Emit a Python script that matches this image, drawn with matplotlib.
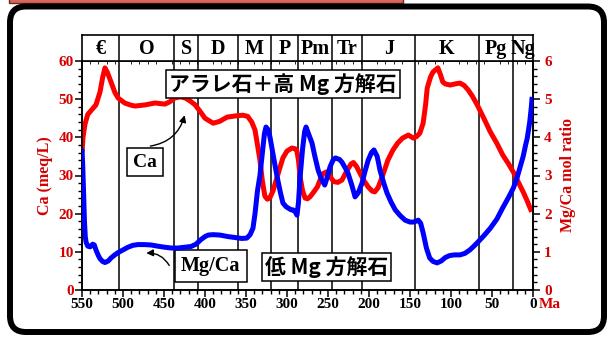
import numpy as np
import matplotlib.pyplot as plt
from matplotlib.patches import FancyBboxPatch, Rectangle
from matplotlib.transforms import IdentityTransform
from matplotlib.ticker import MultipleLocator

plt.rcParams['font.family'] = ['Liberation Serif', 'DejaVu Serif']
plt.rcParams['font.weight'] = 'bold'
plt.rcParams['axes.labelweight'] = 'bold'

# geologic periods (old timescale), Ma
period_bounds = [550, 505, 438, 408, 360, 320, 286, 245, 208, 144, 66, 24, 0]
period_names = ['€', 'O', 'S', 'D', 'M', 'P', 'Pm', 'Tr', 'J', 'K', 'Pg', 'Ng']

# seawater Ca (meq/L)
ca_age = [550, 548.8, 546.3, 543, 539, 533, 528, 525, 522, 519, 514.6, 510, 506,
          498, 490, 485, 473, 461, 449, 443, 437, 430, 424, 418, 412, 406, 400,
          390, 382, 373, 363, 354, 348, 343, 339, 336, 333, 330, 327, 324, 321,
          317, 312, 308, 305, 300, 294, 290, 288, 286, 284, 281, 278, 275, 272,
          268, 263, 259, 256, 251, 247, 243, 238, 233, 227, 222, 219, 215, 211,
          206, 201, 196, 193, 189, 184, 177, 171, 165, 159, 152, 146, 142, 138,
          134, 131, 129, 125, 122, 116, 113, 110, 107, 101, 95, 89, 84, 79, 74,
          68, 60, 52, 44, 37, 30, 24, 18, 12, 7, 3, 1.5]
ca_val = [36.0, 40.0, 43.5, 46.0, 47.0, 48.5, 51.9, 55.5, 58.2, 57.0, 54.5, 51.8, 50.3,
          49.0, 48.4, 48.2, 48.5, 49.0, 48.7, 49.3, 50.3, 50.6, 50.3, 49.5, 48.5, 46.8, 45.0,
          43.7, 44.2, 45.3, 45.6, 45.8, 45.5, 44.0, 41.9, 38.0, 34.0, 28.5, 24.6, 23.8, 24.1,
          26.0, 29.6, 32.5, 34.6, 36.4, 37.2, 37.0, 36.5, 34.0, 29.6, 26.0, 24.1, 23.9, 24.4,
          25.5, 27.0, 29.2, 30.5, 31.0, 29.6, 28.4, 28.2, 28.8, 31.2, 33.0, 33.4, 32.3, 30.6,
          28.6, 27.0, 25.9, 25.7, 26.8, 29.6, 34.0, 36.6, 38.5, 39.8, 40.6, 39.8, 40.2, 41.1,
          43.7, 48.5, 52.9, 55.8, 57.1, 58.2, 56.5, 54.5, 54.0, 53.7, 54.0, 54.2, 53.6, 52.4, 50.8,
          48.5, 45.0, 41.4, 38.4, 35.4, 33.1, 30.9, 28.3, 25.7, 23.3, 21.2, 20.5]

# seawater Mg/Ca mol ratio
mg_age = [550, 549, 548, 547, 546, 545, 543, 540, 537, 535, 533, 530, 528, 525, 522,
          518, 514.6, 510, 506, 500, 494, 488, 482, 474, 466, 458, 449, 441, 433, 425,
          417, 411, 405, 400, 396, 390, 382, 372, 362, 355, 349, 345, 341.5, 339, 336,
          333, 330, 327.5, 325.6, 323, 320.7, 317, 312, 308, 305, 301, 298.8, 295, 292.7,
          290, 287.8, 286, 284, 281, 278.5, 276.8, 273, 269.5, 266, 262, 258, 254, 251,
          247.6, 244, 241, 236, 233, 229, 225.6, 221, 217, 213, 208.5, 205, 201, 197, 194,
          190, 186.6, 182, 178, 173, 168, 162, 156, 150, 146, 143, 140, 137, 134, 130,
          126, 122, 117, 112, 107, 102, 96, 89, 83, 77, 72, 67, 60, 52, 44, 37, 30, 24,
          20, 16, 12, 9, 7, 4, 2, 1]
mg_val = [3.7, 3.2, 2.5, 1.8, 1.4, 1.25, 1.15, 1.13, 1.2, 1.18, 1.05, 0.9, 0.82, 0.75, 0.72,
          0.76, 0.84, 0.92, 0.98, 1.05, 1.12, 1.17, 1.19, 1.19, 1.18, 1.15, 1.12, 1.10, 1.10, 1.12,
          1.14, 1.2, 1.32, 1.4, 1.44, 1.45, 1.44, 1.40, 1.37, 1.35, 1.36, 1.45, 1.62, 2.0, 2.6,
          3.0, 3.6, 4.1, 4.27, 4.2, 4.0, 3.55, 2.96, 2.55, 2.28, 2.18, 2.15, 2.1, 2.1,
          2.05, 1.96, 2.3, 2.96, 3.7, 4.15, 4.27, 4.05, 3.85, 3.5, 3.14, 2.9, 2.75, 2.95,
          3.22, 3.4, 3.46, 3.42, 3.35, 3.2, 3.06, 2.75, 2.44, 2.55, 2.8, 3.1, 3.4, 3.6, 3.67,
          3.5, 3.14, 2.8, 2.54, 2.3, 2.1, 1.95, 1.83, 1.78, 1.78, 1.8, 1.83, 1.75, 1.5, 1.1,
          0.84, 0.75, 0.71, 0.76, 0.85, 0.9, 0.92, 0.92, 0.96, 1.05, 1.15, 1.26, 1.42, 1.62, 1.86, 2.15, 2.42, 2.67,
          2.9, 3.2, 3.5, 3.8, 3.98, 4.4, 4.8, 5.06]

RED = '#ff0000'
LABEL_RED = '#d40000'
BLUE = '#0000ff'

fig = plt.figure(figsize=(6.12, 3.38), dpi=100)
W, H = 612, 338

# outer rounded frame and the clipped title bar above it
fig.add_artist(Rectangle((9, H - 3), 394, 10, transform=IdentityTransform(),
                         facecolor='#d9675b', edgecolor='#6b2a22', lw=1.0))
fig.add_artist(FancyBboxPatch((10, 6), 594, 325.5,
                              boxstyle='round,pad=0,rounding_size=16',
                              transform=IdentityTransform(),
                              facecolor='none', edgecolor='black', lw=4.3))

ax = fig.add_axes([82 / W, 48 / H, 451 / W, 229 / H])
hdr = fig.add_axes([82 / W, 277 / H, 451 / W, 26.5 / H], sharex=ax)

ax.set_xlim(550, 0)
ax.set_ylim(0, 60)

for b in period_bounds[1:-1]:
    ax.axvline(b, color='black', lw=1.1, zorder=1)
    hdr.axvline(b, color='black', lw=1.1)

ax.plot(ca_age, ca_val, color=RED, lw=3.6, solid_capstyle='butt', zorder=3)

ax2 = ax.twinx()
ax2.set_ylim(0, 6)
ax2.plot(mg_age, mg_val, color=BLUE, lw=3.6, solid_capstyle='butt', zorder=4)

# axis styling
for a in (ax, ax2):
    for s in a.spines.values():
        s.set_linewidth(1.2)
ax.xaxis.set_major_locator(MultipleLocator(50))
ax.xaxis.set_minor_locator(MultipleLocator(10))
ax.yaxis.set_major_locator(MultipleLocator(10))
ax.yaxis.set_minor_locator(MultipleLocator(2))
ax2.yaxis.set_major_locator(MultipleLocator(1))
ax2.yaxis.set_minor_locator(MultipleLocator(0.2))
ax.tick_params(axis='x', which='major', length=5, width=1.1, labelsize=11, pad=1)
ax.tick_params(axis='x', which='minor', length=3, width=1.0)
ax.tick_params(axis='y', which='major', length=5, width=1.1, labelsize=11,
               labelcolor=LABEL_RED, pad=1)
ax.tick_params(axis='y', which='minor', length=3, width=1.0)
ax2.tick_params(axis='y', which='major', length=5, width=1.1, labelsize=11,
                labelcolor=LABEL_RED, pad=3)
ax2.tick_params(axis='y', which='minor', length=3, width=1.0)

ax.set_ylabel('Ca (meq/L)', color=LABEL_RED, fontsize=11.5, labelpad=4)
ax2.set_ylabel('Mg/Ca mol ratio', color=LABEL_RED, fontsize=11.5, labelpad=6)
ax.text(1.012, -0.065, 'Ma', transform=ax.transAxes, color=LABEL_RED,
        fontsize=11, ha='left', va='center')

# period header row
hdr.set_ylim(0, 1)
hdr.spines['bottom'].set_visible(False)
for s in hdr.spines.values():
    s.set_linewidth(1.2)
hdr.tick_params(left=False, bottom=False, labelbottom=False, labelleft=False)
for i, name in enumerate(period_names):
    mid = (period_bounds[i] + period_bounds[i + 1]) / 2
    hdr.text(mid, 0.45, name, ha='center', va='center', fontsize=14.5)

# annotations
box = dict(boxstyle='square,pad=0.15', facecolor='white', edgecolor='black', lw=1.1)
jp = ['Noto Sans CJK JP', 'DejaVu Sans']
ax.text(305, 54.0, 'アラレ石＋高 Mg 方解石', family=jp, fontsize=15, weight='bold',
        ha='center', va='center', bbox=box, zorder=6)
ax.text(252, 6.0, '低 Mg 方解石', family=jp, fontsize=15, weight='bold',
        ha='center', va='center', bbox=box, zorder=6)
ax.text(473, 33.5, 'Ca', fontsize=14, ha='center', va='center',
        bbox=dict(boxstyle='square,pad=0.3', facecolor='white', edgecolor='black', lw=1.1),
        zorder=6)
ax.text(393, 6.3, 'Mg/Ca', fontsize=14.5, ha='center', va='center',
        bbox=dict(boxstyle='square,pad=0.3', facecolor='white', edgecolor='black', lw=1.1),
        zorder=6)
arrow = dict(arrowstyle='-|>', color='black', lw=1.0, mutation_scale=10)
ax.annotate('', xy=(424, 46.5), xytext=(470, 37.6),
            arrowprops=dict(connectionstyle='arc3,rad=0.35', **arrow), zorder=6)
ax.annotate('', xy=(475, 9.6), xytext=(442, 5.8),
            arrowprops=dict(connectionstyle='arc3,rad=0.35', **arrow), zorder=6)

fig.savefig('out.png', dpi=100)
